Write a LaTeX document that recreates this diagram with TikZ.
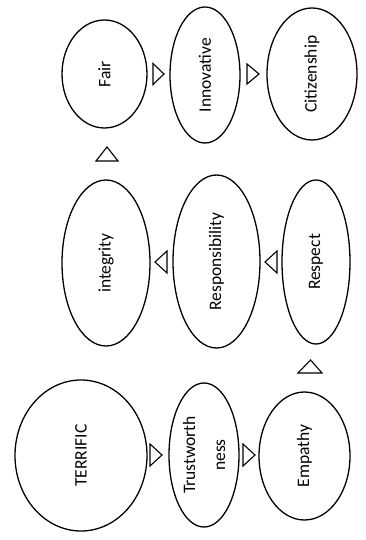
\documentclass[tikz,border=0pt]{standalone}
\usepackage{fontspec}
\setmainfont{Carlito}
\usetikzlibrary{shapes.geometric}
\begin{document}
\begin{tikzpicture}[x=1pt,y=-1pt,
  val/.style={ellipse,draw,line width=1.3pt,inner sep=0pt,rotate=90,
    font=\fontsize{17.5}{30}\selectfont,align=center},
  tri/.style={draw,line width=1.1pt,line join=miter}]
\useasboundingbox (0,0) rectangle (366,540);
% top row
\node[val,minimum width=108pt,minimum height=85pt] (fair) at (104.5,74) {Fair};
\node[val,minimum width=136pt,minimum height=70pt] (innov) at (205,75) {Innovative};
\node[val,minimum width=132pt,minimum height=90pt] (citiz) at (312,74) {Citizenship};
% middle row
\node[val,minimum width=166pt,minimum height=88pt] (integ) at (106,263) {integrity};
\node[val,minimum width=173pt,minimum height=87pt] (resp) at (216.5,261.5) {Responsibility};
\node[val,minimum width=164pt,minimum height=68pt] (respect) at (316,262) {Respect};
% bottom row
\node[val,minimum width=151pt,minimum height=132pt] (terrific) at (81,455.5) {TERRIFIC};
\node[val,minimum width=144pt,minimum height=70pt] (trust) at (204,455) {Trustworth\\ness};
\node[val,minimum width=128pt,minimum height=91pt] (empathy) at (304.5,456) {Empathy};
% triangles
\draw[tri] (153,63.5) -- (164,74) -- (153,84.5) -- cycle;
\draw[tri] (247,64) -- (259,74) -- (247,84) -- cycle;
\draw[tri] (96,161) -- (107,147) -- (118,161) -- cycle;
\draw[tri] (167,251) -- (155,262) -- (167,273) -- cycle;
\draw[tri] (277,251) -- (265,262) -- (277,273) -- cycle;
\draw[tri] (298,373) -- (310.5,360) -- (322,373) -- cycle;
\draw[tri] (150,444) -- (162,455) -- (150,466) -- cycle;
\draw[tri] (243,444) -- (255,455) -- (243,466) -- cycle;
\end{tikzpicture}
\end{document}
